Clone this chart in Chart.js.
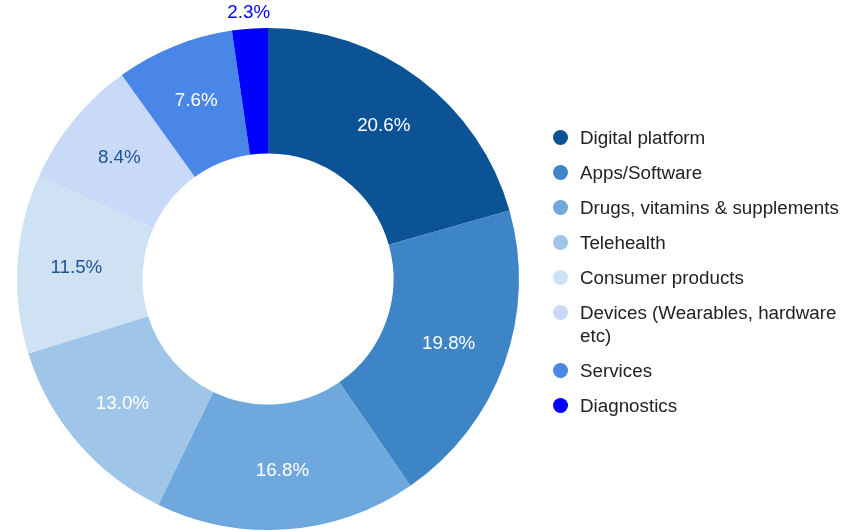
<!DOCTYPE html>
<html>
<head>
<meta charset="utf-8">
<script src="https://cdn.jsdelivr.net/npm/chart.js@4"></script>
<style>
  html, body { margin: 0; padding: 0; background: #fff; }
  #wrap { position: relative; width: 858px; height: 532px; }
  #legend { position: absolute; left: 552px; top: 126px; font: 18.8px "Liberation Sans", Arial, sans-serif; color: #222; }
  #legend .item { display: flex; align-items: flex-start; margin-bottom: 12px; line-height: 23px; width: 300px; }
  #legend .dot { width: 15px; height: 15px; border-radius: 50%; margin: 4px 12px 0 1px; flex-shrink: 0; }
  #legend .txt { width: 265px; }
</style>
</head>
<body>
<div id="wrap">
  <canvas id="chart" width="858" height="532"></canvas>
  <div id="legend"></div>
</div>
<script>
// Data
const categories = [
  'Digital platform',
  'Apps/Software',
  'Drugs, vitamins & supplements',
  'Telehealth',
  'Consumer products',
  'Devices (Wearables, hardware etc)',
  'Services',
  'Diagnostics'
];
const shares = [20.6, 19.8, 16.8, 13.0, 11.5, 8.4, 7.6, 2.3];
const colors = ['#0b5394', '#3d85c6', '#6fa8dc', '#9fc5e8', '#cfe2f3', '#c9daf8', '#4a86e8', '#0000ff'];
const labelColors = ['#fff', '#fff', '#fff', '#fff', '#1c5590', '#1c5590', '#fff', '#0000ff'];

// slice labels: inside the ring, small slices pushed outside
const sliceLabels = {
  id: 'sliceLabels',
  afterDatasetsDraw(chart) {
    const ctx = chart.ctx;
    const meta = chart.getDatasetMeta(0);
    ctx.save();
    ctx.font = '18.8px "Liberation Sans", Arial, sans-serif';
    ctx.textAlign = 'center';
    ctx.textBaseline = 'middle';
    meta.data.forEach((arc, i) => {
      const p = arc.getProps(['x', 'y', 'startAngle', 'endAngle', 'outerRadius'], true);
      const mid = (p.startAngle + p.endAngle) / 2;
      const r = shares[i] < 5 ? p.outerRadius + 16 : 192;
      ctx.fillStyle = labelColors[i];
      ctx.fillText(shares[i].toFixed(1) + '%', p.x + Math.cos(mid) * r, p.y + Math.sin(mid) * r);
    });
    ctx.restore();
  }
};

new Chart(document.getElementById('chart').getContext('2d'), {
  type: 'doughnut',
  data: {
    labels: categories,
    datasets: [{
      data: shares,
      backgroundColor: colors,
      borderWidth: 0
    }]
  },
  options: {
    responsive: false,
    animation: false,
    cutout: '50%',
    layout: { padding: { left: 17, right: 339, top: 28, bottom: 2 } },
    plugins: { legend: { display: false }, tooltip: { enabled: false } }
  },
  plugins: [sliceLabels]
});

// HTML legend
const legend = document.getElementById('legend');
categories.forEach((c, i) => {
  const item = document.createElement('div');
  item.className = 'item';
  item.innerHTML = '<span class="dot" style="background:' + colors[i] + '"></span><span class="txt">' + c.replace('&', '&amp;') + '</span>';
  legend.appendChild(item);
});
</script>
</body>
</html>
